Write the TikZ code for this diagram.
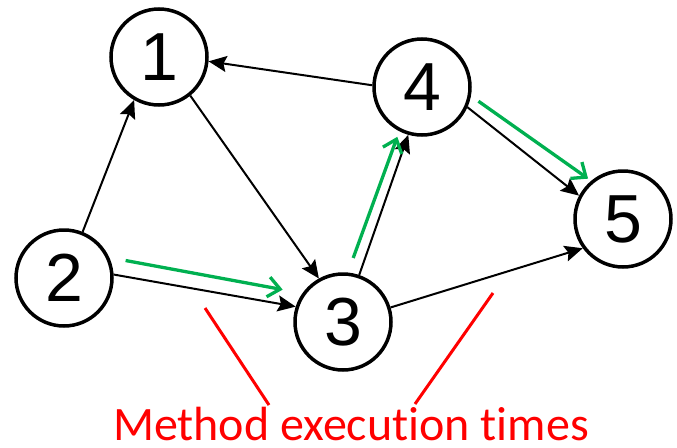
\documentclass[tikz,border=0pt]{standalone}
\usepackage{fontspec}
\setmainfont{Liberation Sans}
\newfontfamily\labelfont[Ligatures=NoCommon]{Carlito}
\usetikzlibrary{arrows.meta,calc}
\definecolor{flowgreen}{RGB}{0,176,80}
\begin{document}
\begin{tikzpicture}[x=1pt,y=-1pt,
  vertex/.style={circle,draw,line width=3.5pt,minimum size=96pt,inner sep=0pt,
    font=\fontsize{68}{68}\selectfont},
  edge/.style={line width=2pt,-{Stealth[length=18pt,width=16pt,inset=3pt]}},
  flow/.style={flowgreen,line width=3.3pt,-{Straight Barb[length=12pt,width=20pt]}},
  pointer/.style={red,line width=3pt}]
\useasboundingbox (0,0) rectangle (677,447);

% method nodes
\node[vertex] (n1) at (159,57) {1};
\node[vertex] (n4) at (422,87) {4};
\node[vertex] (n2) at (64,278) {2};
\node[vertex] (n3) at (343,322) {3};
\node[vertex] (n5) at (623,219) {5};

% call edges
\draw[edge] (n2.68) -- (n1.240);
\draw[edge] (n4.178) -- (n1.355);
\draw[edge] (n1.309) -- (n3.119);
\draw[edge] (n2.4) -- (n3.162);
\draw[edge] (n3.71) -- (n4.254);
\draw[edge] (n4.336) -- (n5.152);
\draw[edge] (n3.17) -- (n5.216);

% highlighted path 2 -> 3 -> 4 -> 5
\draw[flow] ($(n2.4)+(12,-14)$) -- ($(n3.162)+(-13,-17)$);
\draw[flow] ($(n3.71)+(-6,-17)$) -- ($(n4.254)+(-11,2)$);
\draw[flow] ($(n4.336)+(11,-6)$) -- ($(n5.152)+(9,-17)$);

% caption with pointer lines
\node[text=red,font=\labelfont\fontsize{48}{48}\selectfont,anchor=base,inner sep=0pt]
  (cap) at (351,440) {Method execution times};
\coordinate (la) at (205,308);
\coordinate (lb) at (269,405);
\coordinate (ra) at (493,293);
\coordinate (rb) at (415,404);
\draw[pointer] (la) -- (lb);
\draw[pointer] (ra) -- (rb);
\end{tikzpicture}
\end{document}
